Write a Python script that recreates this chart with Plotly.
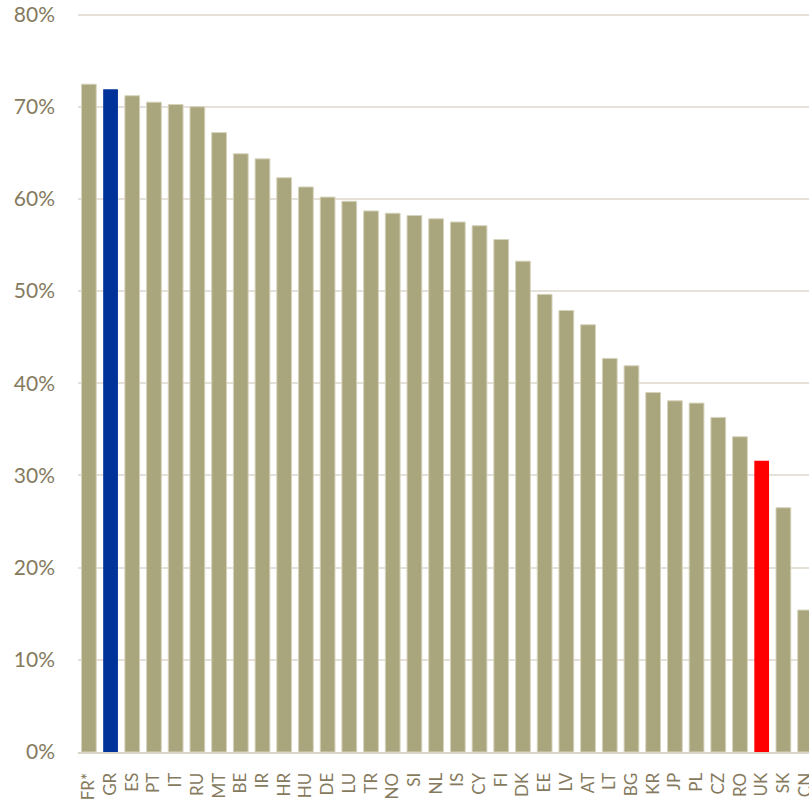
import plotly.graph_objects as go

countries = ["FR*", "GR", "ES", "PT", "IT", "RU", "MT", "BE", "IR", "HR", "HU", "DE", "LU",
             "TR", "NO", "SI", "NL", "IS", "CY", "FI", "DK", "EE", "LV", "AT", "LT", "BG",
             "KR", "JP", "PL", "CZ", "RO", "UK", "SK", "CN"]
values = [72.45, 71.9, 71.2, 70.5, 70.25, 70.0, 67.2, 64.9, 64.35, 62.3, 61.3, 60.2, 59.75,
          58.7, 58.45, 58.2, 57.85, 57.5, 57.1, 55.6, 53.25, 49.65, 47.9, 46.35, 42.7, 41.9,
          39.0, 38.1, 37.85, 36.3, 34.2, 31.6, 26.5, 15.4]
highlight = {"GR": "#003399", "UK": "#FF0000"}
base_color = "#A9A57C"
y_ticks = [0, 10, 20, 30, 40, 50, 60, 70, 80]
y_labels = [f"{t}%" for t in y_ticks]

colors = [highlight.get(c, base_color) for c in countries]
line_colors = ["rgba(0,0,0,0)" if c in highlight else "#D6D3BD" for c in countries]

text_color = "#857A5E"

fig = go.Figure(go.Bar(
    x=countries, y=values,
    marker=dict(color=colors, line=dict(color=line_colors, width=1)),
))

fig.update_layout(
    width=809, height=803,
    margin=dict(l=78, r=0, t=10, b=51),
    plot_bgcolor="white", paper_bgcolor="white",
    bargap=0.32,
    showlegend=False,
    font=dict(family="Lato", color=text_color),
)
fig.update_xaxes(
    range=[-0.5, 33.18],
    automargin=False,
    tickangle=-90,
    tickfont=dict(size=17, color=text_color),
    showline=True, linecolor="#D9D4C7", linewidth=2,
    ticks="", ticklabelstandoff=12,
    showgrid=False,
)
fig.update_yaxes(
    range=[0, 80.5],
    automargin=False,
    tickvals=y_ticks, ticktext=y_labels,
    tickfont=dict(size=21, color=text_color),
    showgrid=True, gridcolor="#E5E1D8", gridwidth=2,
    zeroline=False, showline=False,
    ticks="", ticklabelstandoff=22,
)

fig.write_html(
    "out.html",
    config={"displayModeBar": False},
    post_script="document.body.style.margin='0';document.body.style.overflow='hidden';",
)
